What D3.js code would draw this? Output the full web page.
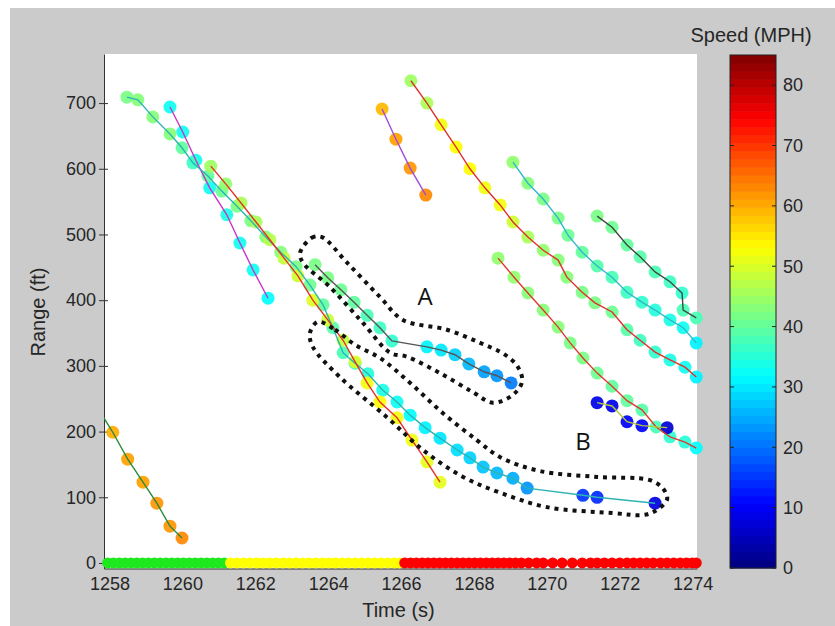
<!DOCTYPE html>
<html>
<head>
<meta charset="utf-8">
<script src="https://cdn.jsdelivr.net/npm/d3@7"></script>
<style>
  body { margin: 0; background: #fff; }
  svg { display: block; font-family: Arial, "Liberation Sans", sans-serif; }
</style>
</head>
<body>
<svg id="chart" width="835" height="626"></svg>
<script>
// Tick labels
const xTicks = [1258, 1260, 1262, 1264, 1266, 1268, 1270, 1272, 1274];
const yTicks = [0, 100, 200, 300, 400, 500, 600, 700];
const speedTicks = [0, 10, 20, 30, 40, 50, 60, 70, 80];

// Tracks: [time (s), range (ft), speed (MPH)]
const trackMagenta = [[1259.66,694,33],[1260.01,656,33],[1260.37,613,33],[1260.75,571,33],[1261.22,530,34],[1261.58,487,33],[1261.94,446,33],[1262.35,403,32]];
const trackB = [[1258.48,709,42],[1258.78,705,43],[1259.19,679,43],[1259.66,653,43],[1259.99,632,40],[1260.29,609,37],[1260.70,589,40],[1261.08,566,41],[1261.50,543,42],[1261.88,521,42],[1262.29,496,43],[1262.70,473,43],[1263.12,451,42],[1263.50,423,41],[1263.86,393,40],[1264.13,358,39],[1264.41,320,38],[1264.74,304,36],[1265.09,288,35],[1265.50,263,34],[1265.89,245,33],[1266.25,225,32],[1266.66,206,31],[1267.07,190,30],[1267.54,172,29],[1267.89,160,28],[1268.25,146,27],[1268.63,137,26],[1269.07,129,25],[1269.46,114,23],[1270.99,103,15],[1271.38,100,14],[1272.97,91,8]];
const trackRedMid = [[1260.78,604,45],[1261.19,577,44],[1261.61,548,46],[1262.02,519,46],[1262.40,492,47],[1262.79,464,48],[1263.17,437,49],[1263.58,400,50],[1263.99,370,49],[1264.41,339,48],[1264.74,306,50],[1265.07,274,52],[1265.42,245,53],[1265.89,221,52],[1266.30,187,52],[1266.71,154,51],[1267.07,123,51]];
const trackA = [[1263.64,454,42],[1263.99,434,42],[1264.35,416,41],[1264.71,397,40],[1265.07,377,38],[1265.42,358,37],[1265.75,338,36],[1266.71,329,31],[1267.10,324,30],[1267.48,317,28],[1267.86,303,26],[1268.28,291,24],[1268.63,285,23],[1269.02,274,21]];
const trackOrange = [[1265.48,691,59],[1265.86,645,61],[1266.25,601,62],[1266.68,560,63]];
const trackRedTop = [[1266.27,734,45],[1266.71,700,46],[1267.10,667,52],[1267.51,633,53],[1267.89,600,53],[1268.30,571,52],[1268.72,545,52],[1269.07,519,49],[1269.48,496,46],[1269.90,476,44],[1270.31,461,43],[1270.55,435,43],[1270.97,412,42],[1271.32,396,42],[1271.79,382,41],[1272.20,355,39],[1272.56,339,37],[1272.97,321,36],[1273.38,309,34],[1273.79,298,33],[1274.10,283,31]];
const trackTeal = [[1269.07,610,44],[1269.48,578,43],[1269.90,554,42],[1270.31,525,42],[1270.58,499,41],[1270.97,473,40],[1271.38,452,39],[1271.79,435,38],[1272.20,412,37],[1272.61,397,36],[1272.97,385,35],[1273.38,370,34],[1273.74,358,33],[1274.10,335,31]];
const trackGray = [[1271.38,528,42],[1271.79,511,41],[1272.20,484,40],[1272.56,466,39],[1272.97,443,38],[1273.38,428,37],[1273.71,411,36],[1273.74,385,38],[1274.10,373,38]];
const trackRedLow = [[1268.66,464,44],[1269.10,435,44],[1269.48,411,43],[1269.90,385,43],[1270.31,359,43],[1270.64,335,42],[1270.99,312,42],[1271.38,289,41],[1271.79,269,40],[1272.20,247,40],[1272.61,233,39],[1273.00,207,38],[1273.38,192,36],[1273.79,184,35],[1274.10,175,32]];
const trackBlue = [[1271.38,244,9],[1271.79,239,9],[1272.20,215,10],[1272.61,209,10],[1273.30,206,7]];
const trackLeft = [[1257.71,233,60],[1258.09,199,60],[1258.50,158,61],[1258.92,123,61],[1259.30,91,62],[1259.66,56,62],[1259.99,38,63]];

// Bottom row (range 0) frame times by state
const stateGreenT = [1257.95,1258.11,1258.27,1258.43,1258.59,1258.75,1258.91,1259.07,1259.23,1259.39,1259.55,1259.71,1259.87,1260.03,1260.19,1260.35,1260.51,1260.67,1260.83,1260.99,1261.15];
const stateYellowT = [1261.32,1261.5,1261.68,1261.86,1262.04,1262.22,1262.4,1262.58,1262.76,1262.94,1263.12,1263.3,1263.48,1263.66,1263.84,1264.02,1264.2,1264.38,1264.56,1264.74,1264.92,1265.1,1265.28,1265.46,1265.64,1265.82,1265.96];
const stateRedT = [1266.1,1266.26,1266.42,1266.58,1266.74,1266.9,1267.06,1267.22,1267.38,1267.54,1267.7,1267.86,1268.02,1268.18,1268.34,1268.5,1268.66,1268.82,1268.98,1269.14,1269.3,1269.5,1269.72,1269.9,1270.16,1270.42,1270.7,1270.97,1271.2,1271.38,1271.58,1271.79,1272.0,1272.2,1272.38,1272.56,1272.74,1272.92,1273.12,1273.3,1273.48,1273.66,1273.83,1273.99,1274.1];

// Annotation outlines [time, range]
const outlineA = [[1263.23,472],[1263.55,495],[1263.83,496],[1264.52,457],[1265.42,405],[1266.05,370],[1267.26,355],[1268.17,335],[1268.85,317],[1269.21,298],[1269.32,276],[1269.07,256],[1268.52,244],[1267.97,260],[1267.07,289],[1266.16,314],[1265.70,320],[1264.96,365],[1264.05,420],[1263.31,457]];
const outlineB = [[1263.72,367],[1264.19,355],[1264.74,332],[1265.42,312],[1266.25,274],[1267.15,228],[1268.08,187],[1268.72,161],[1269.81,140],[1271.38,131],[1272.83,126],[1273.19,113],[1273.30,97],[1272.97,79],[1272.64,73],[1271.82,76],[1270.00,85],[1268.72,107],[1267.70,131],[1266.60,172],[1265.61,222],[1264.32,283],[1263.58,329],[1263.50,350]];
const annotationLabels = [["A", 1266.66, 393], ["B", 1270.99, 172]];

// MATLAB jet colormap
function jet(x) {
  const c = v => Math.max(0, Math.min(1, v));
  return d3.rgb(255 * c(1.5 - Math.abs(4 * x - 3)), 255 * c(1.5 - Math.abs(4 * x - 2)), 255 * c(1.5 - Math.abs(4 * x - 1))) + "";
}
const speedColor = d3.scaleSequential(jet).domain([0, 85]);

const svg = d3.select("#chart");
const textColor = "#262626";

// Figure background
svg.append("rect").attr("x", 10).attr("y", 8).attr("width", 825).attr("height", 618).attr("fill", "#cbcbcb");

// Scales
const xScale = d3.scaleLinear().domain([1257.85, 1274.12]).range([104, 697]);
const yScale = d3.scaleLinear().domain([-8.4, 774.7]).range([568.5, 54]);

// Plot area
svg.append("rect")
  .attr("x", xScale.range()[0]).attr("y", yScale.range()[1])
  .attr("width", xScale.range()[1] - xScale.range()[0])
  .attr("height", yScale.range()[0] - yScale.range()[1])
  .attr("fill", "#fff");

svg.append("clipPath").attr("id", "plot-clip").append("rect")
  .attr("x", 104).attr("y", 54).attr("width", 593).attr("height", 514.5);

// Axes
const xAxis = svg.append("g")
  .attr("transform", `translate(0,${yScale.range()[0]})`)
  .call(d3.axisBottom(xScale).tickValues(xTicks).tickFormat(d3.format("d")).tickSize(0).tickPadding(9));
xAxis.select(".domain").attr("stroke", "#333");
xAxis.selectAll("text").attr("font-size", 18).attr("fill", textColor);

const yAxis = svg.append("g")
  .attr("transform", `translate(${xScale.range()[0]},0)`)
  .call(d3.axisLeft(yScale).tickValues(yTicks).tickSize(5).tickPadding(3).tickSizeOuter(0));
yAxis.selectAll("path.domain, line").attr("stroke", "#333");
yAxis.selectAll(".tick").append("line").attr("x2", 4).attr("stroke", "#333");
yAxis.selectAll("text").attr("font-size", 18).attr("fill", textColor);

// Axis labels
svg.append("text")
  .attr("x", (xScale.range()[0] + xScale.range()[1]) / 2 - 2)
  .attr("y", 617)
  .attr("text-anchor", "middle")
  .attr("font-size", 20)
  .attr("fill", textColor)
  .text("Time (s)");

svg.append("text")
  .attr("transform", "rotate(-90)")
  .attr("x", -312)
  .attr("y", 45)
  .attr("text-anchor", "middle")
  .attr("font-size", 20)
  .attr("fill", textColor)
  .text("Range (ft)");

// Bottom row state markers
const stateRows = [
  { times: stateGreenT, color: "#1ee81e" },
  { times: stateYellowT, color: "#ffff00" },
  { times: stateRedT, color: "#ff0000" }
];
stateRows.forEach(row => {
  svg.append("g").selectAll("circle")
    .data(row.times)
    .enter()
    .append("circle")
    .attr("cx", d => xScale(d))
    .attr("cy", yScale(0))
    .attr("r", 5.5)
    .attr("fill", row.color);
});

// Tracks
const tracks = [
  { pts: trackLeft, line: "#2a8a3a" },
  { pts: trackMagenta, line: "#c834c8" },
  { pts: trackB, line: "#2cb4b4" },
  { pts: trackRedMid, line: "#e8302a" },
  { pts: trackA, line: "#555555" },
  { pts: trackOrange, line: "#a24bd8" },
  { pts: trackRedTop, line: "#e0302a" },
  { pts: trackTeal, line: "#30b8c8" },
  { pts: trackGray, line: "#3d4a40" },
  { pts: trackRedLow, line: "#e0382e" },
  { pts: trackBlue, line: "#b5c83a" }
];

const [tMin, tMax] = xScale.domain();
const markerLayer = svg.append("g");
tracks.forEach(tr => {
  markerLayer.append("g").selectAll("circle")
    .data(tr.pts.filter(d => d[0] >= tMin && d[0] <= tMax + 0.05))
    .enter()
    .append("circle")
    .attr("cx", d => xScale(d[0]))
    .attr("cy", d => yScale(d[1]))
    .attr("r", 6.5)
    .attr("fill", d => speedColor(d[2]))
    .attr("fill-opacity", 0.92);
});

const line = d3.line()
  .x(d => xScale(d[0]))
  .y(d => yScale(d[1]));

const lineLayer = svg.append("g").attr("clip-path", "url(#plot-clip)");
tracks.forEach(tr => {
  lineLayer.append("path")
    .datum(tr.pts)
    .attr("fill", "none")
    .attr("stroke", tr.line)
    .attr("stroke-width", 1.4)
    .attr("d", line);
});

// Dotted outlines
const outline = d3.line()
  .x(d => xScale(d[0]))
  .y(d => yScale(d[1]))
  .curve(d3.curveCatmullRomClosed.alpha(0.5));

[outlineA, outlineB].forEach(o => {
  svg.append("path")
    .datum(o)
    .attr("fill", "none")
    .attr("stroke", "#111")
    .attr("stroke-width", 4)
    .attr("stroke-dasharray", "4 5")
    .attr("d", outline);
});

svg.selectAll(".annot")
  .data(annotationLabels)
  .enter()
  .append("text")
  .attr("class", "annot")
  .attr("x", d => xScale(d[1]))
  .attr("y", d => yScale(d[2]))
  .attr("text-anchor", "middle")
  .attr("font-family", "'Open Sans', sans-serif")
  .attr("font-size", 24)
  .attr("fill", "#111")
  .text(d => d[0]);

// Colorbar
const cbX = 730, cbW = 46;
const cbY = d3.scaleLinear().domain([0, 85]).range([568, 55]);
const nBands = 64;
svg.append("g").selectAll("rect")
  .data(d3.range(nBands))
  .enter()
  .append("rect")
  .attr("x", cbX)
  .attr("y", i => cbY((i + 1) * 85 / nBands))
  .attr("width", cbW)
  .attr("height", i => cbY(i * 85 / nBands) - cbY((i + 1) * 85 / nBands) + 0.5)
  .attr("fill", i => speedColor((i + 0.5) * 85 / nBands));

svg.append("rect")
  .attr("x", cbX).attr("y", cbY(85))
  .attr("width", cbW).attr("height", cbY(0) - cbY(85))
  .attr("fill", "none").attr("stroke", "#222").attr("stroke-width", 1);

const cbTicks = svg.append("g").selectAll("g")
  .data(speedTicks)
  .enter()
  .append("g")
  .attr("transform", d => `translate(0,${cbY(d)})`);
cbTicks.append("line").attr("x1", cbX).attr("x2", cbX + 4).attr("stroke", "#222");
cbTicks.append("line").attr("x1", cbX + cbW - 4).attr("x2", cbX + cbW).attr("stroke", "#222");
cbTicks.append("text")
  .attr("x", cbX + cbW + 7)
  .attr("dy", "0.35em")
  .attr("font-size", 18)
  .attr("fill", textColor)
  .text(d => d);

svg.append("text")
  .attr("x", 751)
  .attr("y", 42)
  .attr("text-anchor", "middle")
  .attr("font-size", 20)
  .attr("fill", textColor)
  .text("Speed (MPH)");
</script>
</body>
</html>
